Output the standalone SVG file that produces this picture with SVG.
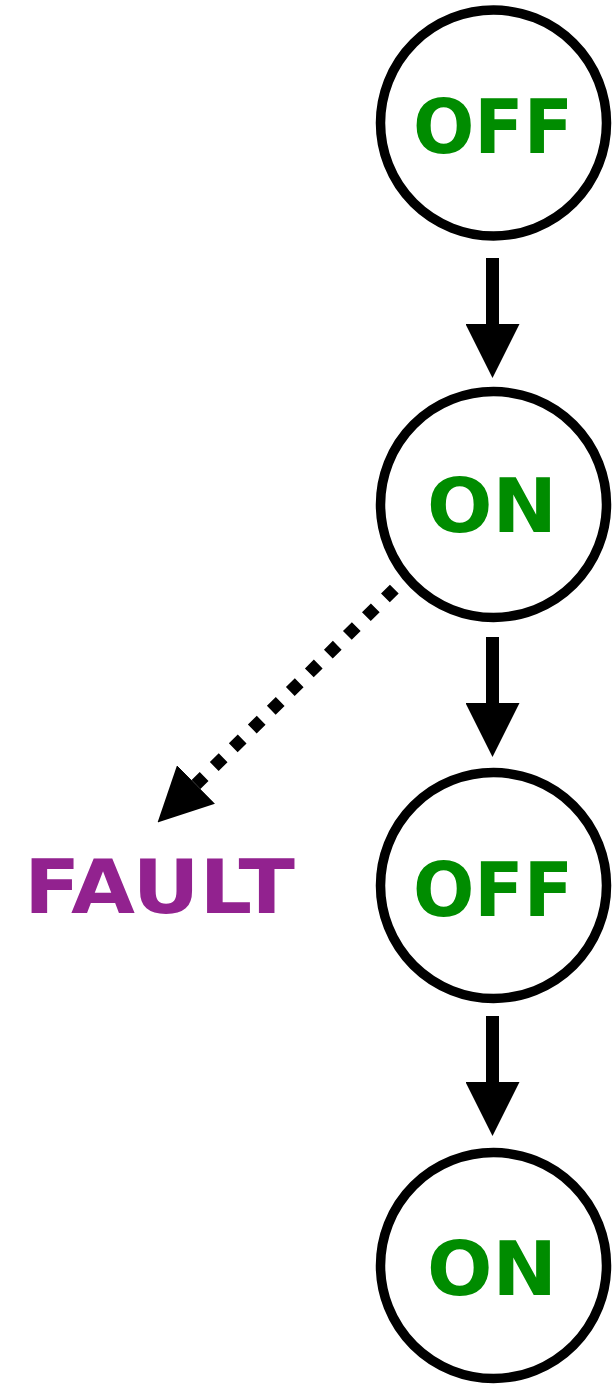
<svg xmlns="http://www.w3.org/2000/svg" width="614" height="1385" viewBox="0 0 614 1385">
  <style>
    .node circle { fill: #ffffff; stroke: #000000; stroke-width: 9.5; }
    .lbl { font-family: "DejaVu Sans", "Liberation Sans", sans-serif; font-weight: bold; font-size: 74px; fill: #008c00; text-anchor: middle; }
    .fault { fill: #92228f; }
    .edge { stroke: #000000; stroke-width: 13; fill: none; marker-end: url(#head); }
    .dotted { stroke-width: 12.5; stroke-dasharray: 12.5 14.2; }
  </style>
  <defs>
    <marker id="head" markerUnits="userSpaceOnUse" markerWidth="54" markerHeight="54" viewBox="0 0 54 54" refX="0" refY="27" orient="auto">
      <path d="M0,0 L54,27 L0,54 z" fill="#000000"/>
    </marker>
  </defs>
  <rect width="614" height="1385" fill="#ffffff"/>
  <g id="connectors">
    <line class="edge" x1="492.5" y1="258" x2="492.5" y2="324"/>
    <line class="edge" x1="492.5" y1="637" x2="492.5" y2="703"/>
    <line class="edge" x1="492.5" y1="1016" x2="492.5" y2="1082"/>
    <line class="edge dotted" x1="394.3" y1="589.1" x2="196" y2="784.5"/>
  </g>
  <g id="node-off-1" class="node">
    <circle cx="493.5" cy="123" r="113"/>
    <text class="lbl" x="493" y="153" textLength="160" lengthAdjust="spacingAndGlyphs">OFF</text>
  </g>
  <g id="node-on-1" class="node">
    <circle cx="493.5" cy="504.5" r="113"/>
    <text class="lbl" x="492" y="532" textLength="130" lengthAdjust="spacingAndGlyphs">ON</text>
  </g>
  <g id="node-off-2" class="node">
    <circle cx="493.5" cy="885.5" r="113"/>
    <text class="lbl" x="493" y="915.5" textLength="160" lengthAdjust="spacingAndGlyphs">OFF</text>
  </g>
  <g id="node-on-2" class="node">
    <circle cx="493.5" cy="1265.5" r="113"/>
    <text class="lbl" x="492" y="1295" textLength="130" lengthAdjust="spacingAndGlyphs">ON</text>
  </g>
  <g id="node-fault">
    <text class="lbl fault" x="159.5" y="912.5" textLength="271" lengthAdjust="spacingAndGlyphs">FAULT</text>
  </g>
</svg>
